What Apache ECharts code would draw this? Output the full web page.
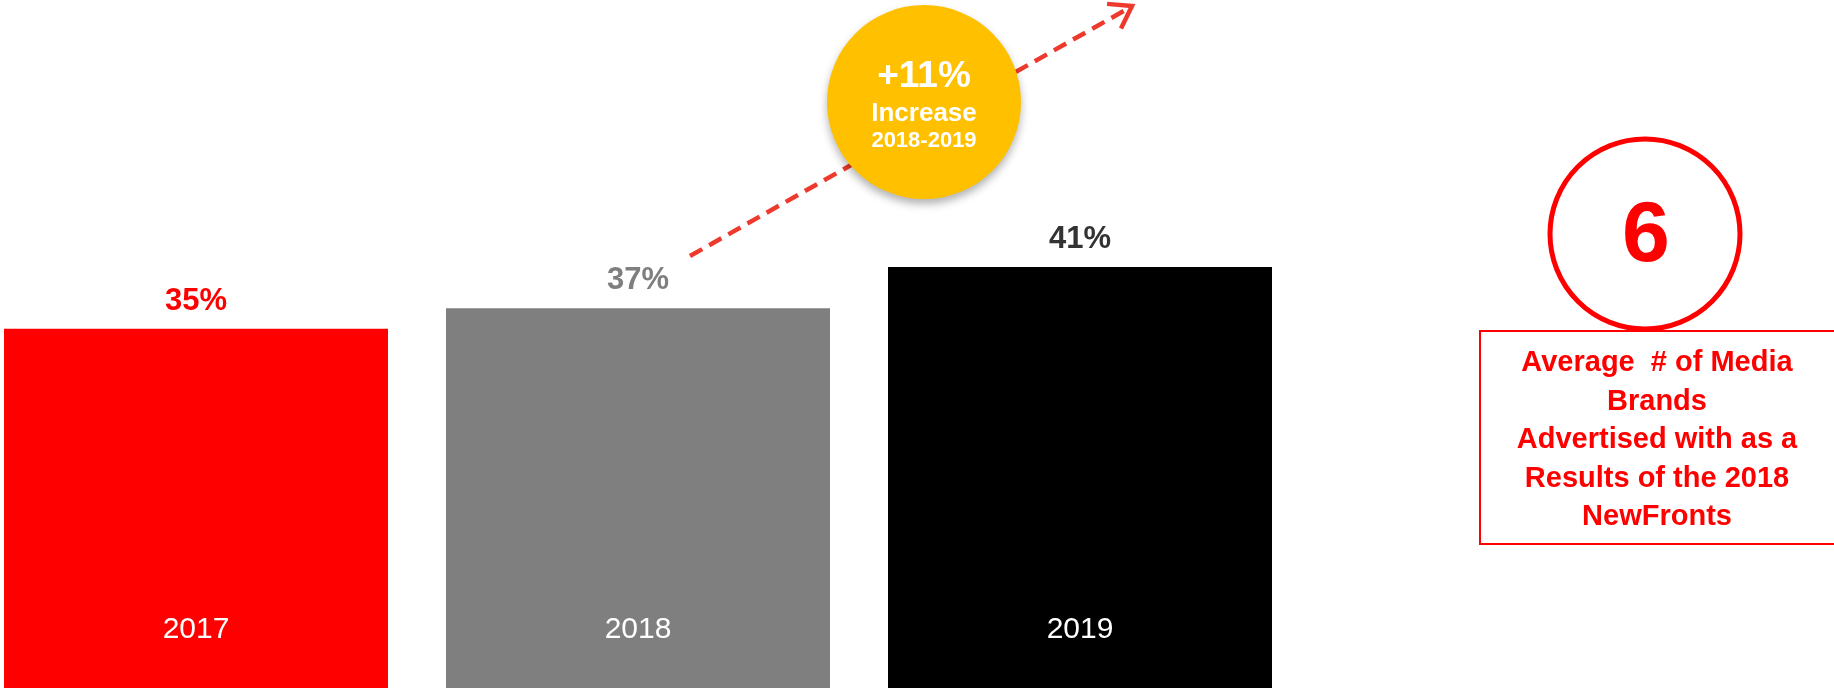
<!DOCTYPE html>
<html>
<head>
<meta charset="utf-8">
<script src="https://cdn.jsdelivr.net/npm/echarts@6/dist/echarts.min.js"></script>
<style>
  html, body { margin: 0; padding: 0; background: #fff; }
  #myChart { width: 1834px; height: 691px; }
</style>
</head>
<body>
<div id="myChart"></div>
<script>
// chart data
var years = ['2017', '2018', '2019'];
var shares = [35, 37, 41];
var barColors = ['#FF0000', '#7F7F7F', '#000000'];
var labelColors = ['#FF0000', '#7F7F7F', '#333333'];

// call-outs
var bubbleLines = ['+11%', 'Increase', '2018-2019'];
var avgBrands = '6';
var avgBrandsText = 'Average  # of Media\nBrands\nAdvertised with as a\nResults of the 2018\nNewFronts';

var font = '"Liberation Sans", Arial, sans-serif';

// dashed trend arrow
var arrowFrom = [690, 256], arrowTo = [1132, 6];
var ang = Math.atan2(arrowTo[1] - arrowFrom[1], arrowTo[0] - arrowFrom[0]);
function arm(delta) {
  return [arrowTo[0] - 25 * Math.cos(ang + delta), arrowTo[1] - 25 * Math.sin(ang + delta)];
}

var option = {
  animation: false,
  grid: { left: -25, width: 1326, top: 72, bottom: 3, outerBoundsMode: 'none' },
  xAxis: {
    type: 'category',
    data: years,
    z: 10,
    axisLine: { show: false },
    axisTick: { show: false },
    axisLabel: { inside: true, margin: 43, color: '#fff', fontSize: 30, fontFamily: font }
  },
  yAxis: { type: 'value', min: 0, max: 60, show: false },
  series: [{
    type: 'bar',
    barWidth: 384,
    data: shares.map(function (v, i) {
      return {
        value: v,
        itemStyle: { color: barColors[i] },
        label: { color: labelColors[i] }
      };
    }),
    label: {
      show: true,
      position: 'top',
      distance: 12,
      formatter: '{c}%',
      fontSize: 31,
      fontWeight: 'bold',
      fontFamily: font
    }
  }],
  graphic: [
    {
      type: 'line',
      shape: { x1: arrowFrom[0], y1: arrowFrom[1], x2: arrowTo[0] - 3, y2: arrowTo[1] + 2 },
      style: { stroke: '#EE3A2C', lineWidth: 4.5, lineDash: [14, 8] }
    },
    {
      type: 'polyline',
      shape: { points: [arm(0.6), arrowTo, arm(-0.6)] },
      style: { stroke: '#EE3A2C', lineWidth: 4.5, fill: null }
    },
    {
      type: 'circle',
      shape: { cx: 924, cy: 102, r: 97 },
      style: { fill: '#FFC000', shadowBlur: 8, shadowOffsetY: 5, shadowColor: 'rgba(0,0,0,0.3)' },
      z: 10
    },
    {
      type: 'text', x: 924, y: 77, z: 11,
      style: { text: bubbleLines[0], fill: '#fff', font: 'bold 37px ' + font, align: 'center', verticalAlign: 'middle' }
    },
    {
      type: 'text', x: 924, y: 114, z: 11,
      style: { text: bubbleLines[1], fill: '#fff', font: 'bold 26px ' + font, align: 'center', verticalAlign: 'middle' }
    },
    {
      type: 'text', x: 924, y: 141, z: 11,
      style: { text: bubbleLines[2], fill: '#fff', font: 'bold 22px ' + font, align: 'center', verticalAlign: 'middle' }
    },
    {
      type: 'circle',
      shape: { cx: 1645, cy: 234, r: 95 },
      style: { fill: '#fff', stroke: '#FF0000', lineWidth: 5 }
    },
    {
      type: 'text', x: 1646, y: 237,
      style: { text: avgBrands, fill: '#FF0000', font: 'bold 86px ' + font, align: 'center', verticalAlign: 'middle' }
    },
    {
      type: 'rect',
      shape: { x: 1480, y: 331, width: 360, height: 213 },
      style: { fill: '#fff', stroke: '#FF0000', lineWidth: 2 }
    },
    {
      type: 'text', x: 1657, y: 440,
      style: {
        text: avgBrandsText, fill: '#FF0000', font: 'bold 29px ' + font,
        lineHeight: 38.5, align: 'center', verticalAlign: 'middle'
      }
    }
  ]
};

var myChart = echarts.init(document.getElementById('myChart'));
myChart.setOption(option);
</script>
</body>
</html>
